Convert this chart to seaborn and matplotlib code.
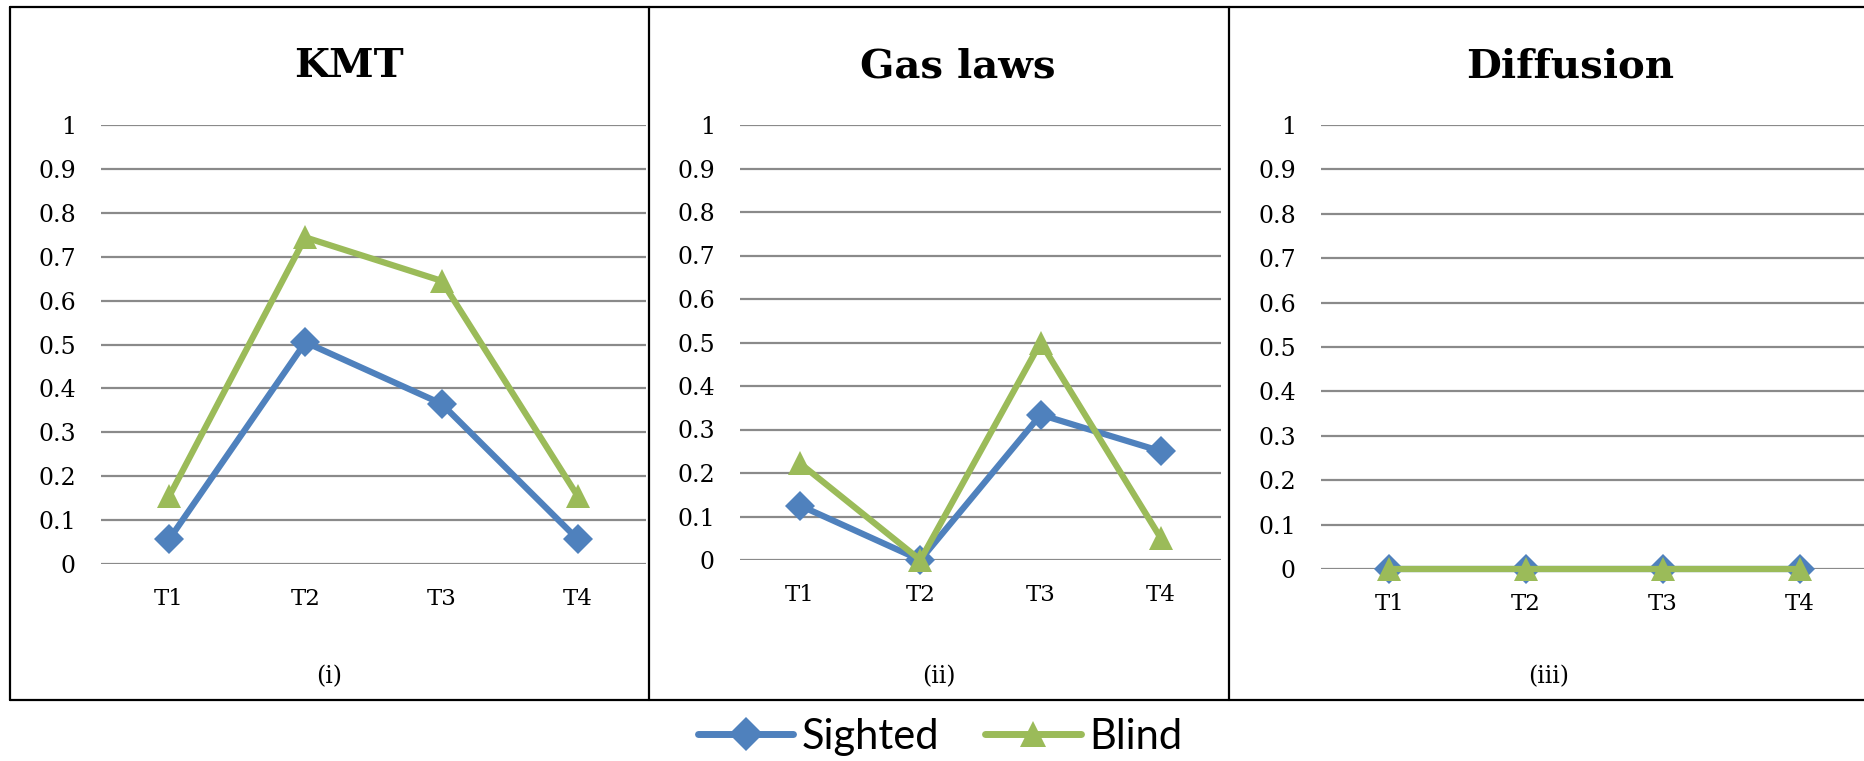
import matplotlib
matplotlib.use("Agg")
import matplotlib.pyplot as plt
from matplotlib.lines import Line2D
import pandas as pd
import seaborn as sns

# data
tests = ["T1", "T2", "T3", "T4"]
groups = ["Sighted", "Blind"]
panels = ["KMT", "Gas laws", "Diffusion"]
panel_tags = ["(i)", "(ii)", "(iii)"]

kmt_sighted = [0.056, 0.505, 0.365, 0.056]
kmt_blind = [0.154, 0.744, 0.645, 0.154]
gas_sighted = [0.125, 0.0, 0.334, 0.25]
gas_blind = [0.222, 0.0, 0.5, 0.05]
diff_sighted = [0.0, 0.0, 0.0, 0.0]
diff_blind = [0.0, 0.0, 0.0, 0.0]

y_ticks = [0, 0.1, 0.2, 0.3, 0.4, 0.5, 0.6, 0.7, 0.8, 0.9, 1]
y_tick_labels = ["0", "0.1", "0.2", "0.3", "0.4", "0.5", "0.6", "0.7", "0.8", "0.9", "1"]

series = {
    "KMT": {"Sighted": kmt_sighted, "Blind": kmt_blind},
    "Gas laws": {"Sighted": gas_sighted, "Blind": gas_blind},
    "Diffusion": {"Sighted": diff_sighted, "Blind": diff_blind},
}

rows = []
for panel in panels:
    for group in groups:
        for test, score in zip(tests, series[panel][group]):
            rows.append({"panel": panel, "test": test, "group": group, "score": score})
df = pd.DataFrame(rows)

palette = {"Sighted": "#4F81BD", "Blind": "#9BBB59"}
markers = {"Sighted": "D", "Blind": "^"}
marker_sizes = {"Sighted": 15, "Blind": 17}

sns.set_style("white")
serif = ["DejaVu Serif"]

W, H = 1865, 761
fig = plt.figure(figsize=(W / 100, H / 100), dpi=100)

# axes boxes in pixels: left, right, top (y=1), bottom (y=0)
boxes = [(101, 646, 125, 564), (740, 1221, 125, 560), (1321, 1868, 125, 569)]
title_x = [349, 958, 1570]
tag_x = [329, 939, 1549]

for panel, tag, box, tx, gx in zip(panels, panel_tags, boxes, title_x, tag_x):
    l, r, t, b = box
    ax = fig.add_axes([l / W, 1 - b / H, (r - l) / W, (b - t) / H])
    sub = df[df["panel"] == panel]
    for group in groups:
        sns.lineplot(data=sub[sub["group"] == group], x="test", y="score",
                     color=palette[group], marker=markers[group],
                     markersize=marker_sizes[group], markeredgewidth=0,
                     linewidth=4.5, clip_on=False, sort=False, ax=ax)
    ax.set_xlim(-0.5, 3.5)
    ax.set_ylim(0, 1)
    ax.set_yticks(y_ticks)
    ax.set_yticklabels(y_tick_labels, fontfamily=serif, fontsize=17, color="black")
    ax.set_xticks(range(len(tests)))
    ax.set_xticklabels(tests, fontfamily=serif, fontsize=16.5, color="black")
    ax.tick_params(axis="y", length=0, pad=18)
    ax.tick_params(axis="x", length=0, pad=17)
    ax.set_xlabel("")
    ax.set_ylabel("")
    ax.yaxis.grid(True, color="#8a8a8a", linewidth=1.6)
    ax.xaxis.grid(False)
    ax.set_axisbelow(True)
    for s in ax.spines.values():
        s.set_visible(False)
    ax.patch.set_alpha(0)
    fig.text(tx / W, 1 - 66 / H, panel, ha="center", va="center", color="black",
             fontfamily=serif, fontweight="bold", fontsize=29)
    fig.text(gx / W, 1 - 677 / H, tag, ha="center", va="center", color="black",
             fontfamily=serif, fontsize=17)

# outer frame and dividers
frame_kw = dict(color="black", linewidth=1.6, transform=fig.transFigure)
fig.add_artist(Line2D([10 / W, 1], [1 - 7 / H, 1 - 7 / H], **frame_kw))
fig.add_artist(Line2D([10 / W, 1], [1 - 700 / H, 1 - 700 / H], **frame_kw))
for x in [10, 649, 1229]:
    fig.add_artist(Line2D([x / W, x / W], [1 - 7 / H, 1 - 700 / H], **frame_kw))

handles = [
    Line2D([], [], color=palette[g], marker=markers[g], linewidth=5,
           markersize=19 if g == "Blind" else 17, markeredgewidth=0,
           solid_capstyle="round")
    for g in groups
]
fig.legend(handles, groups, loc="center", bbox_to_anchor=(940 / W, 1 - 737 / H),
           ncol=2, frameon=False, handlelength=2.3, handletextpad=0.2,
           columnspacing=1.1, prop={"family": "Lato", "size": 30},
           labelcolor="black", borderaxespad=0, borderpad=0)

fig.savefig("out.png", dpi=100)
